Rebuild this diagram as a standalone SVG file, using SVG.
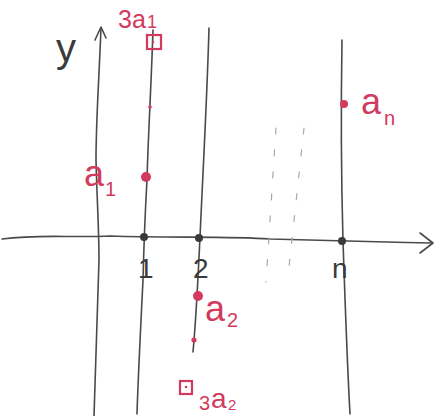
<svg xmlns="http://www.w3.org/2000/svg" width="438" height="416" viewBox="0 0 438 416">
<style>
.ln{fill:none;stroke:#4a4a4a;stroke-width:1.6;stroke-linecap:round;stroke-linejoin:round}
.dash{fill:none;stroke:#a8a8a8;stroke-width:1.2;stroke-dasharray:6 16;stroke-linecap:round}
.red{fill:#d23a5e}
.redo{fill:none;stroke:#d23a5e;stroke-width:2.2}
.rt{font-family:"Liberation Sans",Arial,sans-serif;fill:#d23a5e;font-size:36px}
.rs{font-family:"Liberation Sans",Arial,sans-serif;fill:#d23a5e;font-size:20px}
.bt{font-family:"Liberation Sans",Arial,sans-serif;fill:#3a3a3a;font-size:28px}
.dot{fill:#3a3a3a}
</style>
<rect width="438" height="416" fill="#fff"/>
<g id="connectors">
  <path class="ln" d="M101,28 C99,80 96,120 96,160 C97,200 99,230 99,260 C97,320 95,370 94,416"/>
  <path class="ln" d="M95,40 L101,27 L106,38"/>
  <path class="ln" d="M153,30 C151,90 148,140 147,180 C145,215 144,240 143,280 C140,340 138,380 137,414"/>
  <path class="ln" d="M209,28 C207,100 203,170 200,237 C198,280 196,320 193,352"/>
  <path class="ln" d="M342,40 C341,100 341,170 343,241 C345,300 347,360 350,414"/>
  <path class="ln" d="M2,239 C40,234 70,238 110,236 C170,238 230,236 270,239 C330,240 380,242 432,243"/>
  <path class="ln" d="M420,233 L433,243 L420,253"/>
  <path class="dash" d="M276,128 L266,282"/>
  <path class="dash" d="M304,128 L288,276"/>
</g>
<g id="axis-labels">
  <text class="bt" x="56" y="62" style="font-size:40px">y</text>
  <text class="bt" x="138" y="278">1</text>
  <text class="bt" x="193" y="278">2</text>
  <text class="bt" x="332" y="278">n</text>
</g>
<g id="tick-1"><circle class="dot" cx="144" cy="237" r="4"/></g>
<g id="tick-2"><circle class="dot" cx="199" cy="238" r="4"/></g>
<g id="tick-n"><circle class="dot" cx="342" cy="241" r="4"/></g>
<g id="p-3a1">
  <rect class="redo" x="147" y="35" width="14" height="14"/>
  <circle class="red" cx="153" cy="42" r="1.3"/>
  <text class="rt" x="118" y="28" style="font-size:25px">3a</text><text class="rs" x="147" y="28" style="font-size:18px">1</text>
</g>
<g id="p-mid1"><circle class="red" cx="150" cy="107" r="1.8"/></g>
<g id="p-a1">
  <circle class="red" cx="146" cy="177" r="5"/>
  <text class="rt" x="84" y="186">a</text><text class="rs" x="105" y="196">1</text>
</g>
<g id="p-an">
  <circle class="red" cx="344" cy="104" r="4"/>
  <text class="rt" x="361" y="114">a</text><text class="rs" x="384" y="125">n</text>
</g>
<g id="p-a2">
  <circle class="red" cx="198" cy="296" r="5"/>
  <text class="rt" x="205" y="321">a</text><text class="rs" x="227" y="327">2</text>
</g>
<g id="p-mid2"><circle class="red" cx="194" cy="340" r="2.6"/></g>
<g id="p-3a2">
  <rect class="redo" x="180" y="381" width="12" height="13"/>
  <circle class="red" cx="186" cy="387" r="1.3"/>
  <text class="rs" x="199" y="410">3</text><text class="rt" x="211" y="408" style="font-size:28px">a</text><text class="rs" x="228" y="410" style="font-size:15px">2</text>
</g>
</svg>
